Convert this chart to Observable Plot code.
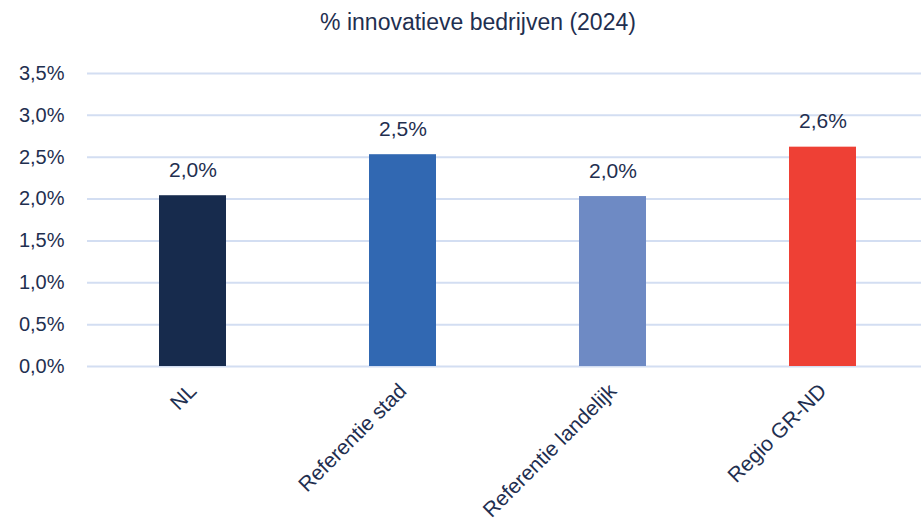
<!DOCTYPE html>
<html>
<head>
<meta charset="utf-8">
<script src="https://cdn.jsdelivr.net/npm/d3@7"></script>
<script src="https://cdn.jsdelivr.net/npm/@observablehq/plot@0.6"></script>
<style>
  html, body { margin: 0; padding: 0; background: #fff; }
  #title { font-family: "Liberation Sans", Arial, sans-serif; font-size: 23px; color: #1f2f50;
           height: 45px; line-height: 44px; text-align: center; padding-left: 35px; box-sizing: border-box; width: 921px; }
</style>
</head>
<body>
<div id="title">% innovatieve bedrijven (2024)</div>
<div id="chart"></div>
<script>
const categories = ["NL", "Referentie stad", "Referentie landelijk", "Regio GR-ND"];
const values = [0.0204, 0.0253, 0.0203, 0.0262];
const labels = ["2,0%", "2,5%", "2,0%", "2,6%"];
const colors = ["#172b4d", "#3168b2", "#6e8ac4", "#ee4035"];
const yTicks = [0, 0.005, 0.01, 0.015, 0.02, 0.025, 0.03, 0.035];

const data = categories.map((c, i) => ({cat: c, value: values[i], label: labels[i], color: colors[i]}));
const fmt = v => (v * 100).toFixed(1).replace(".", ",") + "%";
const textColor = "#1f2f50";

const chart = Plot.plot({
  width: 921,
  height: 482,
  marginLeft: 87,
  marginRight: 0,
  marginTop: 28,
  marginBottom: 161,
  style: {fontFamily: "'Liberation Sans', Arial, sans-serif", color: textColor, background: "#fff"},
  x: {domain: categories, range: [87, 929], paddingInner: 0.68, paddingOuter: 0.34, label: null},
  y: {domain: [0, 0.035], label: null},
  marks: [
    Plot.ruleY(yTicks, {stroke: "#d3def2", strokeWidth: 2}),
    Plot.barY(data, {x: "cat", y: "value", fill: "color"}),
    Plot.text(data, {x: "cat", y: "value", text: "label", dy: -19, lineAnchor: "bottom", fontSize: 21, fill: textColor}),
    Plot.axisY({ticks: yTicks, tickFormat: fmt, tickSize: 0, tickPadding: 23, fontSize: 20, fill: textColor, label: null}),
    Plot.axisX({tickSize: 0, tickRotate: -45, textAnchor: "end", tickPadding: 21, fontSize: 21, fill: textColor, label: null})
  ]
});
document.getElementById("chart").appendChild(chart);
</script>
</body>
</html>
